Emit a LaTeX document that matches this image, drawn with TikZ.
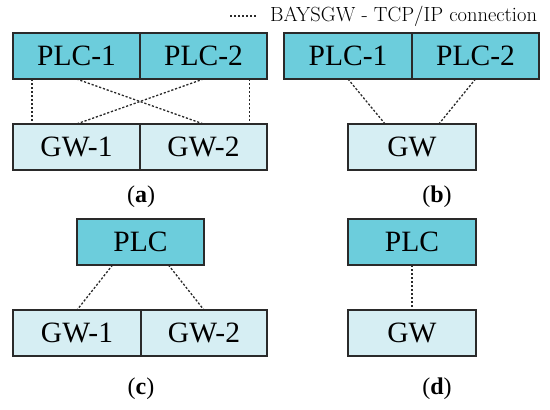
\documentclass[tikz,border=0pt]{standalone}
\usepackage{fontspec}
\newfontfamily\boxfont{Liberation Serif}
\usetikzlibrary{positioning,calc}

\definecolor{plcfill}{HTML}{6CCDDC}
\definecolor{gwfill}{HTML}{D6EEF3}
\definecolor{edge}{HTML}{2A2A2A}

\begin{document}
\begin{tikzpicture}[
  x=1bp, y=-1bp,
  node distance=0bp,
  hi/.style={draw=edge, line width=1.1bp, fill=plcfill, minimum width=127bp, minimum height=46bp, inner sep=0pt, outer sep=0pt, font=\boxfont\fontsize{29.5bp}{32bp}\selectfont},
  lo/.style={hi, fill=gwfill},
  c/.style={draw=edge, line width=1.3bp, dash pattern=on 2.2bp off 1.8bp},
  lab/.style={font=\boxfont\fontsize{24bp}{26bp}\selectfont}
]
\useasboundingbox (0,0) rectangle (550,409);

% (a)
\node[hi] (a-plc1) at (76.5,56) {PLC-1};
\node[hi, right=of a-plc1] (a-plc2) {PLC-2};
\node[lo, below=45bp of a-plc1] (a-gw1) {GW-1};
\node[lo, right=of a-gw1] (a-gw2) {GW-2};
\draw[c] ($(a-plc1.south west)!0.15!(a-plc1.south east)$) -- ($(a-gw1.north west)!0.15!(a-gw1.north east)$);
\draw[c] (a-plc1.south) -- (a-gw2.north);
\draw[c] (a-plc2.south) -- (a-gw1.north);
\draw[c] ($(a-plc2.south west)!0.86!(a-plc2.south east)$) -- ($(a-gw2.north west)!0.86!(a-gw2.north east)$);
\node[lab] (a-lab) at (141,197) {(\textbf{a})};

% (b)
\node[hi, minimum width=128bp] (b-plc1) at (348,56) {PLC-1};
\node[hi, right=of b-plc1] (b-plc2) {PLC-2};
\node[lo, minimum width=128bp] (b-gw) at (412,147) {GW};
\draw[c] (b-plc1.south) -- ($(b-gw.north west)!0.29!(b-gw.north east)$);
\draw[c] (b-plc2.south) -- ($(b-gw.north west)!0.71!(b-gw.north east)$);
\node[lab] (b-lab) at (437,197) {(\textbf{b})};

% (c)
\node[hi] (c-plc) at (140.5,242) {PLC};
\node[lo, minimum width=128bp] (c-gw1) at (77,333) {GW-1};
\node[lo, right=of c-gw1, minimum width=126bp] (c-gw2) {GW-2};
\draw[c] ($(c-plc.south west)!0.28!(c-plc.south east)$) -- (c-gw1.north);
\draw[c] ($(c-plc.south west)!0.72!(c-plc.south east)$) -- (c-gw2.north);
\node[lab] (c-lab) at (141,389) {(\textbf{c})};

% (d)
\node[hi, minimum width=128bp] (d-plc) at (412,242) {PLC};
\node[lo, minimum width=128bp, below=45bp of d-plc] (d-gw) {GW};
\draw[c] (d-plc) -- (d-gw);
\node[lab] (d-lab) at (437,389) {(\textbf{d})};

% legend
\coordinate (key-a) at (230,16);
\coordinate (key-b) at (258,16);
\draw[c] (key-a) -- (key-b);
\node[right=12bp of key-b, inner sep=0pt, font=\fontsize{20.5bp}{24bp}\selectfont] (key-txt) {BAYSGW - TCP/IP connection};
\end{tikzpicture}
\end{document}
